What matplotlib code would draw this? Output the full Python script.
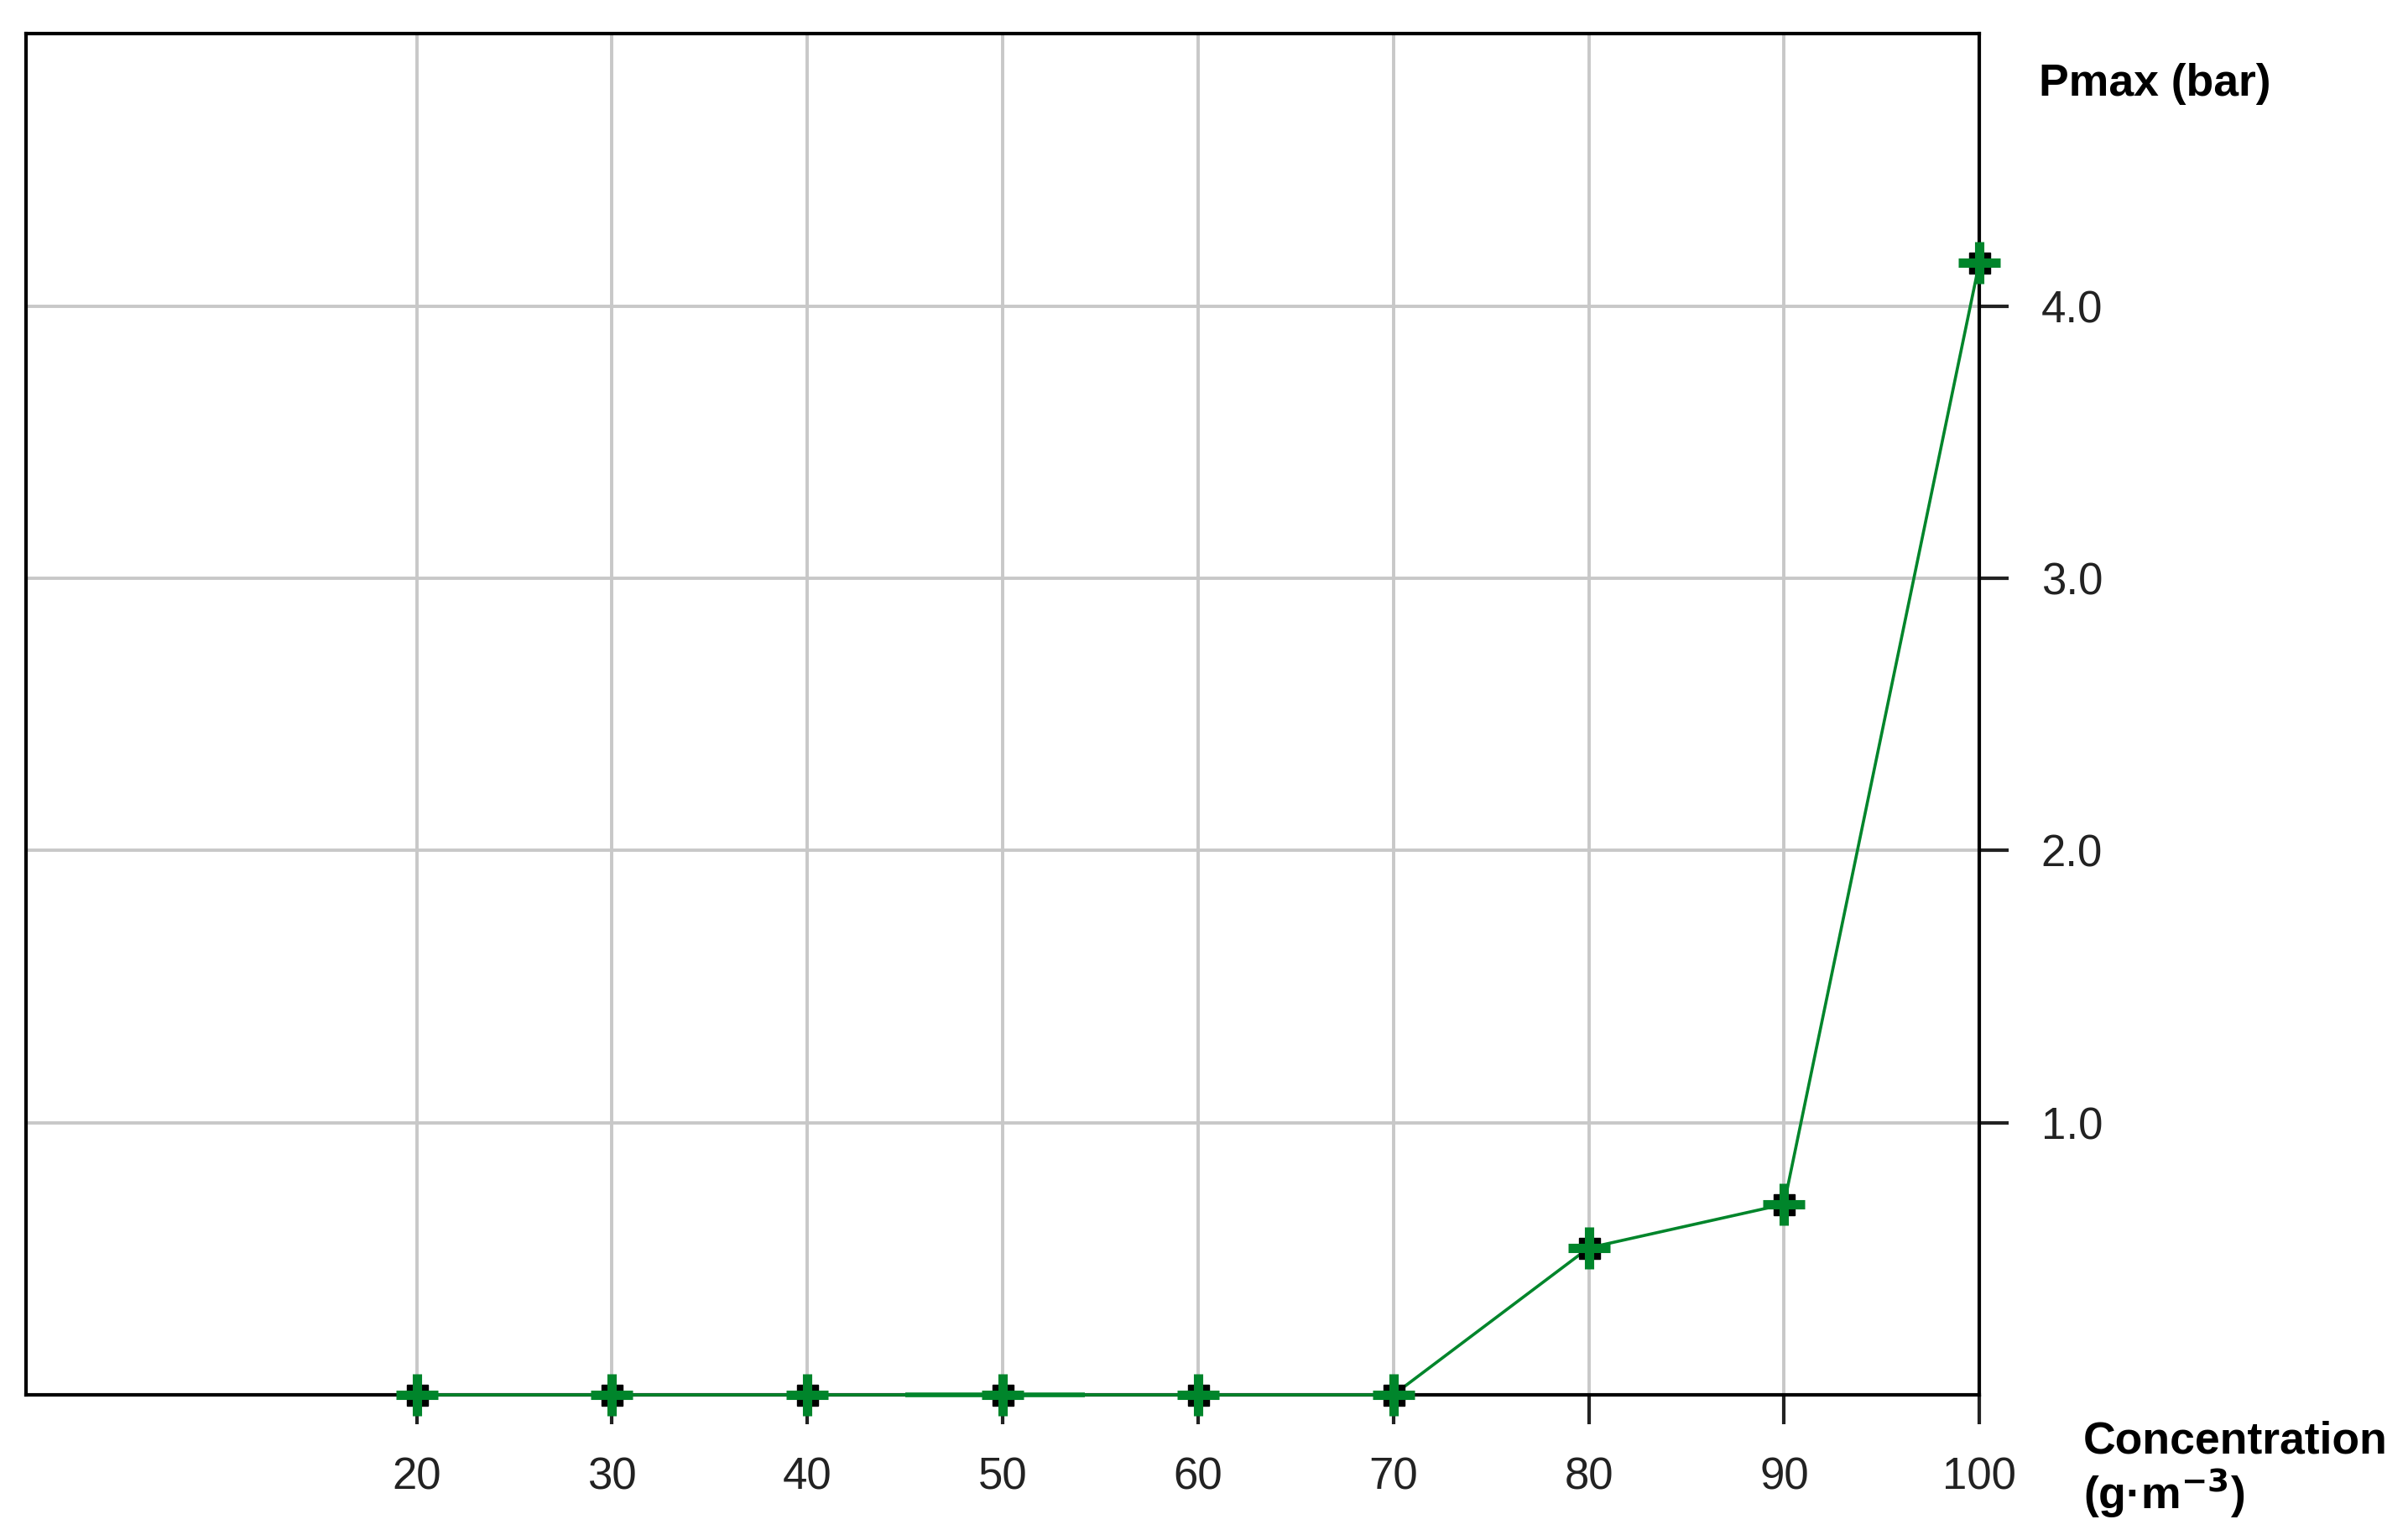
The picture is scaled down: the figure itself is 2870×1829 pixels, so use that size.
import numpy as np
import matplotlib.pyplot as plt

conc = [20, 30, 40, 50, 60, 70, 80, 90, 100]  # g.m-3
pmax = [0.0, 0.0, 0.0, 0.0, 0.0, 0.0, 0.54, 0.70, 4.16]  # bar
xerr_50 = [[5.0], [4.2]]  # odd horizontal bar at 50

xticks = [20, 30, 40, 50, 60, 70, 80, 90, 100]
yticks = [1.0, 2.0, 3.0, 4.0]

green = '#00852b'
tickfont = ['Liberation Sans', 'DejaVu Sans']
labfont = ['Liberation Sans', 'DejaVu Sans']

fig = plt.figure(figsize=(28.7, 18.29), dpi=100)
ax = fig.add_axes([0.0108, 0.0913, 0.8112, 0.8867])

ax.set_xlim(0, 100)
ax.set_ylim(0, 5)

# grid
ax.set_xticks(xticks)
ax.set_yticks(yticks)
ax.grid(True, color='#c8c8c8', lw=2.8, zorder=0)

# data
ax.errorbar([50], [0.0], xerr=xerr_50, fmt='none', ecolor=green, elinewidth=4, capsize=0,
            zorder=6, clip_on=False)
ax.plot(conc, pmax, color=green, lw=2.6, zorder=3, clip_on=False)
ax.plot(conc, pmax, ls='none', marker='s', ms=18, mfc='black', mec='black', clip_on=False, zorder=4)
ax.plot(conc, pmax, ls='none', marker='+', ms=36, mew=8, color=green, clip_on=False, zorder=5)

# axes styling
ax.yaxis.tick_right()
for s in ax.spines.values():
    s.set_linewidth(3)
    s.set_color('black')
ax.tick_params(axis='both', direction='out', length=25, width=3, color='#222222')
ax.tick_params(axis='x', pad=28)
ax.tick_params(axis='y', pad=28)
ax.set_xticklabels([str(v) for v in xticks], family=tickfont, fontsize=38, color='#222222')
ax.set_yticklabels(['%.1f' % v for v in yticks], family=tickfont, fontsize=38, color='#222222')

fig.text(2430 / 2870, 1 - 100 / 1829, 'Pmax (bar)', family=labfont, fontweight='bold',
         fontsize=38.5, ha='left', va='center')
fig.text(2483 / 2870, 1 - 1717 / 1829, 'Concentration', family=labfont, fontweight='bold',
         fontsize=38.5, ha='left', va='center')
fig.text(2483 / 2870, 1 - 1779 / 1829, '(g·m$^{\\mathbf{-3}}$)', family=labfont, fontweight='bold',
         fontsize=38.5, ha='left', va='center')

fig.savefig('out.png', dpi=100, facecolor='white')
